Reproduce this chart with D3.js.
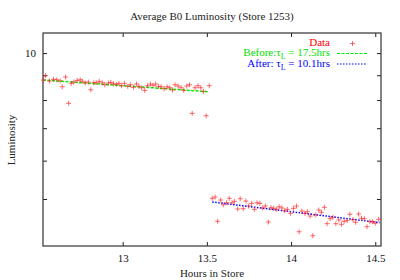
<!DOCTYPE html>
<html>
<head>
<meta charset="utf-8">
<script src="https://cdn.jsdelivr.net/npm/d3@7"></script>
<style>
  body { margin: 0; background: #fff; }
  svg text { font-family: "Liberation Serif", "DejaVu Serif", serif; }
</style>
</head>
<body>
<div id="forSvg"></div>
<script>
// luminosity readings before the dump (hours, value)
var beforeTimes = [12.530, 12.542, 12.565, 12.589, 12.609, 12.629, 12.641, 12.661, 12.679, 12.695,
	12.710, 12.730, 12.748, 12.760, 12.778, 12.796, 12.811, 12.829, 12.843, 12.861,
	12.879, 12.894, 12.915, 12.930, 12.946, 12.963, 12.978, 12.994, 13.010, 13.030,
	13.046, 13.064, 13.082, 13.097, 13.113, 13.131, 13.147, 13.165, 13.180, 13.196,
	13.213, 13.228, 13.246, 13.264, 13.280, 13.296, 13.311, 13.329, 13.347, 13.363,
	13.381, 13.397, 13.413, 13.430, 13.448, 13.464, 13.480, 13.496, 13.514];
var beforeLum = [8.80, 8.98, 8.755, 8.826, 8.809, 8.768, 8.521, 8.923, 7.876, 8.660,
	8.714, 8.78, 8.809, 8.743, 8.68, 8.714, 8.400, 8.685, 8.685, 8.743,
	8.685, 8.603, 8.672, 8.702, 8.643, 8.619, 8.660, 8.562, 8.660, 8.538,
	8.603, 8.497, 8.631, 8.538, 8.481, 8.376, 8.562, 8.631, 8.578, 8.631,
	8.538, 8.521, 8.441, 8.521, 8.481, 8.388, 8.603, 8.550, 8.481, 8.376,
	8.550, 8.603, 7.510, 8.481, 8.562, 8.481, 8.337, 7.425, 8.562];

// readings after
var afterTimes = [13.532, 13.549, 13.564, 13.582, 13.597, 13.617, 13.633, 13.649, 13.665, 13.683,
	13.698, 13.716, 13.732, 13.748, 13.766, 13.782, 13.798, 13.815, 13.829, 13.847,
	13.865, 13.881, 13.897, 13.913, 13.929, 13.946, 13.963, 13.978, 13.996, 14.014,
	14.032, 14.048, 14.064, 14.082, 14.097, 14.113, 14.129, 14.147, 14.165, 14.180,
	14.198, 14.214, 14.232, 14.248, 14.266, 14.284, 14.299, 14.315, 14.333, 14.349,
	14.367, 14.383, 14.401, 14.418, 14.435, 14.451, 14.468, 14.484, 14.500, 14.520];
var afterLum = [5.016, 5.047, 4.498, 4.976, 4.866, 4.912, 5.016, 4.912, 4.945, 4.768,
	5.007, 4.775, 4.952, 4.836, 4.898, 4.761, 4.912, 4.898, 4.791, 4.836,
	4.483, 4.798, 4.784, 4.761, 4.820, 4.791, 4.729, 4.761, 4.672, 4.784,
	4.836, 4.280, 4.723, 4.672, 4.707, 4.611, 4.200, 4.634, 4.745, 4.694,
	4.807, 4.447, 4.554, 4.585, 4.447, 4.526, 4.434, 4.498, 4.511, 4.650,
	4.533, 4.477, 4.657, 4.563, 4.554, 4.384, 4.489, 4.489, 4.456, 4.541];

// exponential fits, end points only
var beforeFitTimes = [12.527, 13.512];
var beforeFitLum = [8.80, 8.32];
var afterFitTimes = [13.532, 14.526];
var afterFitLum = [4.93, 4.47];

var xTicks = [13, 13.5, 14, 14.5];
var yTicks = [5, 6, 7, 8, 9, 10];
var yLabels = [10];

var W = 400, H = 280;
var mLeft = 43, mRight = 381, mTop = 33, mBottom = 246;

var svg = d3.select("#forSvg").append("svg")
	.attr("width", W).attr("height", H);

var x = d3.scaleLinear().domain([12.527, 14.534]).range([mLeft, mRight]);
var y = d3.scaleLog().domain([4, 11]).range([mBottom, mTop]);

var zip = function(ts, vs) {
	return ts.map(function(t, i) { return {t: t, v: vs[i]}; });
};

// axes, ticks point inward
var fmtY = function(d) { return yLabels.indexOf(d) >= 0 ? d : ""; };

svg.append("g")
	.attr("transform", "translate(" + mLeft + ",0)")
	.call(d3.axisLeft(y).tickValues(yTicks).tickSizeInner(-4).tickSizeOuter(0)
		.tickPadding(7).tickFormat(fmtY));
svg.append("g")
	.attr("transform", "translate(" + mRight + ",0)")
	.call(d3.axisRight(y).tickValues(yTicks).tickSizeInner(-4).tickSizeOuter(0)
		.tickFormat(""));
svg.append("g")
	.attr("transform", "translate(0," + mBottom + ")")
	.call(d3.axisBottom(x).tickValues(xTicks).tickSizeInner(-4).tickSizeOuter(0)
		.tickPadding(8).tickFormat(function(d) { return d; }));
svg.append("g")
	.attr("transform", "translate(0," + mTop + ")")
	.call(d3.axisTop(x).tickValues(xTicks).tickSizeInner(-4).tickSizeOuter(0)
		.tickFormat(""));

svg.selectAll(".domain").remove();
svg.selectAll(".tick line").attr("stroke", "#222");
svg.selectAll(".tick text")
	.style("font-family", "Liberation Serif, serif")
	.style("font-size", "11px")
	.attr("fill", "#111");

svg.append("rect")
	.attr("x", mLeft).attr("y", mTop)
	.attr("width", mRight - mLeft).attr("height", mBottom - mTop)
	.attr("fill", "none").attr("stroke", "#333").attr("stroke-width", 1.2);

// fit lines
var line = d3.line()
	.x(function(d) { return x(d.t); })
	.y(function(d) { return y(d.v); });

svg.append("path")
	.datum(zip(beforeFitTimes, beforeFitLum))
	.attr("d", line)
	.attr("fill", "none").attr("stroke", "#00ee00")
	.attr("stroke-width", 1.5).attr("stroke-dasharray", "3,1.5");

svg.append("path")
	.datum(zip(afterFitTimes, afterFitLum))
	.attr("d", line)
	.attr("fill", "none").attr("stroke", "#0000ff")
	.attr("stroke-width", 1.5).attr("stroke-dasharray", "1.5,1.5");

// data crosses
var pts = zip(beforeTimes, beforeLum).concat(zip(afterTimes, afterLum));
var cross = function(sel) {
	sel.append("path")
		.attr("d", "M-2.5,0H2.5M0,-2.5V2.5")
		.attr("stroke", "#ff2020").attr("stroke-opacity", 0.65)
		.attr("stroke-width", 1);
};

svg.append("g").selectAll("g")
	.data(pts)
	.enter().append("g")
	.attr("transform", function(d) { return "translate(" + x(d.t) + "," + y(d.v) + ")"; })
	.call(cross);

// legend
var leg = svg.append("g").style("font-size", "11px");
leg.append("text").attr("x", 330).attr("y", 46).attr("text-anchor", "end")
	.attr("fill", "#ff0000").text("Data");
leg.append("g").attr("transform", "translate(352.5,43.5)").call(cross);

var t1 = leg.append("text").attr("x", 330).attr("y", 56).attr("text-anchor", "end")
	.attr("fill", "#00e000");
t1.append("tspan").text("Before:τ");
t1.append("tspan").attr("dy", 3).style("font-size", "8px").text("L");
t1.append("tspan").attr("dy", -3).text(" = 17.5hrs");
leg.append("line").attr("x1", 337).attr("x2", 367).attr("y1", 53.5).attr("y2", 53.5)
	.attr("stroke", "#00ee00").attr("stroke-width", 1.2).attr("stroke-dasharray", "3,1.5");

var t2 = leg.append("text").attr("x", 330).attr("y", 66.5).attr("text-anchor", "end")
	.attr("fill", "#0000ff");
t2.append("tspan").text("After: τ");
t2.append("tspan").attr("dy", 3).style("font-size", "8px").text("L");
t2.append("tspan").attr("dy", -3).text(" = 10.1hrs");
leg.append("line").attr("x1", 337).attr("x2", 367).attr("y1", 64).attr("y2", 64)
	.attr("stroke", "#0000ff").attr("stroke-width", 1.2).attr("stroke-dasharray", "1.5,1.5");

// titles
svg.append("text").attr("x", 212).attr("y", 20).attr("text-anchor", "middle")
	.style("font-size", "11px").attr("fill", "#222")
	.text("Average B0 Luminosity (Store 1253)");
svg.append("text").attr("x", 212).attr("y", 277).attr("text-anchor", "middle")
	.style("font-size", "11px").attr("fill", "#222")
	.text("Hours in Store");
svg.append("text")
	.attr("transform", "translate(15,140) rotate(-90)")
	.attr("text-anchor", "middle")
	.style("font-size", "11px").attr("fill", "#222")
	.text("Luminosity");
</script>
</body>
</html>
